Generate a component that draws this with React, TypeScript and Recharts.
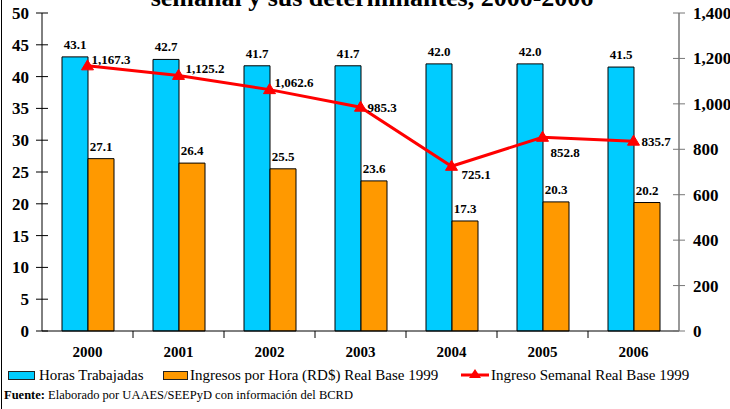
import React from 'react';
import { ComposedChart, Bar, Line, XAxis, YAxis, LabelList } from 'recharts';

// ---- Data ----
const years = ['2000', '2001', '2002', '2003', '2004', '2005', '2006'];
const horasTrabajadas = [43.1, 42.7, 41.7, 41.7, 42.0, 42.0, 41.5];
const ingresoPorHora = [27.1, 26.4, 25.5, 23.6, 17.3, 20.3, 20.2];
const ingresoSemanal = [1167.3, 1125.2, 1062.6, 985.3, 725.1, 852.8, 835.7];
const leftTicks = [0, 5, 10, 15, 20, 25, 30, 35, 40, 45, 50];
const rightTicks = [0, 200, 400, 600, 800, 1000, 1200, 1400];
const seriesNames = ['Horas Trabajadas', 'Ingresos por Hora (RD$) Real Base 1999', 'Ingreso Semanal Real Base 1999'];
const titleText = 'semanal y sus determinantes, 2000-2006';
const sourceBold = 'Fuente:';
const sourceText = ' Elaborado por UAAES/SEEPyD con información del BCRD';

// ---- Styling ----
const W = 730;
const H = 409;
const LEFT_W = 42;
const RIGHT_W = 51;
const PLOT_W = W - LEFT_W - RIGHT_W;
const BAND = PLOT_W / years.length;
const FONT = '"Liberation Serif", "Times New Roman", serif';
const CYAN = '#00CCFF';
const ORANGE = '#FF9900';
const RED = '#FF0000';
// label offsets for the line labels (dx, dy relative to point)
const lineLabelOffsets = [
  [4, -6], [7, -7], [5, -7], [7, 0], [10, 8], [8, 15], [8, 0],
];

const data = years.map((y, i) => ({
  year: y,
  horas: horasTrabajadas[i],
  hora: ingresoPorHora[i],
  semanal: ingresoSemanal[i],
}));

const fmtComma = (v: number) => v.toLocaleString('en-US');
const fmt1 = (v: number) => v.toLocaleString('en-US', { minimumFractionDigits: 1, maximumFractionDigits: 1 });

const LeftTick = (props: any) => {
  const { x, y, payload } = props;
  return (
    <g>
      <line x1={x - 6} x2={x + 6} y1={y} y2={y} stroke="#000" strokeWidth={1} />
      <text x={x - 13} y={y + 6} textAnchor="end" fontFamily={FONT} fontWeight="bold" fontSize={17} fill="#000">
        {payload.value}
      </text>
    </g>
  );
};

const RightTick = (props: any) => {
  const { x, y, payload } = props;
  return (
    <g>
      <line x1={x - 6} x2={x + 6} y1={y} y2={y} stroke="#777" strokeWidth={1} />
      <text x={x + 14} y={y + 6} textAnchor="start" fontFamily={FONT} fontWeight="bold" fontSize={17} fill="#000">
        {fmtComma(payload.value)}
      </text>
    </g>
  );
};

const BottomTick = (props: any) => {
  const { x, y, payload, index } = props;
  return (
    <g>
      {index < years.length - 1 && (
        <line x1={x + BAND / 2} x2={x + BAND / 2} y1={y} y2={y + 7} stroke="#000" strokeWidth={1} />
      )}
      <text x={x} y={y + 26} textAnchor="middle" fontFamily={FONT} fontWeight="bold" fontSize={15} fill="#000">
        {payload.value}
      </text>
    </g>
  );
};

const Triangle = (props: any) => {
  const { cx, cy } = props;
  if (cx == null || cy == null) return null;
  return <polygon points={`${cx},${cy - 6} ${cx - 6},${cy + 4} ${cx + 6},${cy + 4}`} fill={RED} stroke={RED} />;
};

const LineLabel = (props: any) => {
  const { x, y, value, index } = props;
  const [dx, dy] = lineLabelOffsets[index] || [4, -6];
  return (
    <text x={x + dx} y={y + dy} dominantBaseline="central" textAnchor="start" fontFamily={FONT} fontWeight="bold" fontSize={13} fill="#000">
      {fmt1(value)}
    </text>
  );
};

const BarLabel = (props: any) => {
  const { x, y, width, value } = props;
  return (
    <text x={x + width / 2} y={y - 8} textAnchor="middle" fontFamily={FONT} fontWeight="bold" fontSize={13} fill="#000">
      {fmt1(value)}
    </text>
  );
};

export default function App() {
  return (
    <div style={{ position: 'absolute', left: 0, top: 0, width: W, height: H, overflow: 'hidden', background: '#fff', fontFamily: FONT }}>
      <div style={{ position: 'absolute', left: 1, top: 0, width: 1, height: H, background: '#000' }} />
      <div
        style={{
          position: 'absolute', left: 0, width: 744, top: -20, textAlign: 'center',
          fontSize: 26, fontWeight: 'bold', lineHeight: '36px', whiteSpace: 'nowrap', color: '#000',
        }}
      >
        {titleText}
      </div>
      <ComposedChart
        width={W}
        height={H}
        data={data}
        margin={{ top: 13, right: 0, left: 0, bottom: 48 }}
        barGap={0}
        style={{ position: 'absolute', left: 0, top: 0 }}
      >
        <XAxis
          dataKey="year"
          height={30}
          axisLine={{ stroke: '#000', strokeWidth: 1 }}
          tickLine={false}
          tickSize={0}
          tickMargin={0}
          tick={<BottomTick />}
          interval={0}
        />
        <YAxis
          yAxisId="left"
          orientation="left"
          width={LEFT_W}
          domain={[0, 50]}
          ticks={leftTicks}
          axisLine={{ stroke: '#000', strokeWidth: 1 }}
          tickLine={false}
          tickSize={0}
          tickMargin={0}
          tick={<LeftTick />}
          interval={0}
        />
        <YAxis
          yAxisId="right"
          orientation="right"
          width={RIGHT_W}
          domain={[0, 1400]}
          ticks={rightTicks}
          axisLine={{ stroke: '#777', strokeWidth: 1.5 }}
          tickLine={false}
          tickSize={0}
          tickMargin={0}
          tick={<RightTick />}
          interval={0}
        />
        <Bar yAxisId="left" dataKey="horas" name={seriesNames[0]} fill={CYAN} stroke="#000" strokeWidth={1} barSize={26} isAnimationActive={false}>
          <LabelList dataKey="horas" content={<BarLabel />} />
        </Bar>
        <Bar yAxisId="left" dataKey="hora" name={seriesNames[1]} fill={ORANGE} stroke="#000" strokeWidth={1} barSize={26} isAnimationActive={false}>
          <LabelList dataKey="hora" content={<BarLabel />} />
        </Bar>
        <Line
          yAxisId="right"
          dataKey="semanal"
          name={seriesNames[2]}
          stroke={RED}
          strokeWidth={3}
          dot={<Triangle />}
          activeDot={false}
          isAnimationActive={false}
        >
          <LabelList dataKey="semanal" content={<LineLabel />} />
        </Line>
      </ComposedChart>

      {/* Legend */}
      <div style={{ position: 'absolute', top: 366, left: 0, height: 18, width: W, fontSize: 15, color: '#000' }}>
        <div style={{ position: 'absolute', left: 8, top: 5, width: 25, height: 7, background: CYAN, border: '1.5px solid #222' }} />
        <div style={{ position: 'absolute', left: 39, top: 0, lineHeight: '18px', whiteSpace: 'nowrap' }}>{seriesNames[0]}</div>
        <div style={{ position: 'absolute', left: 163, top: 5, width: 23, height: 7, background: ORANGE, border: '1.5px solid #222' }} />
        <div style={{ position: 'absolute', left: 190, top: 0, lineHeight: '18px', whiteSpace: 'nowrap' }}>{seriesNames[1]}</div>
        <svg style={{ position: 'absolute', left: 460, top: 0 }} width={30} height={18}>
          <line x1={1} x2={29} y1={9} y2={9} stroke={RED} strokeWidth={3} />
          <polygon points="15,3 9,12 21,12" fill={RED} />
        </svg>
        <div style={{ position: 'absolute', left: 491, top: 0, lineHeight: '18px', whiteSpace: 'nowrap' }}>{seriesNames[2]}</div>
      </div>

      {/* Source */}
      <div style={{ position: 'absolute', top: 387, left: 4, fontSize: 12.5, lineHeight: '16px', whiteSpace: 'nowrap', color: '#000' }}>
        <b>{sourceBold}</b>{sourceText}
      </div>
    </div>
  );
}
